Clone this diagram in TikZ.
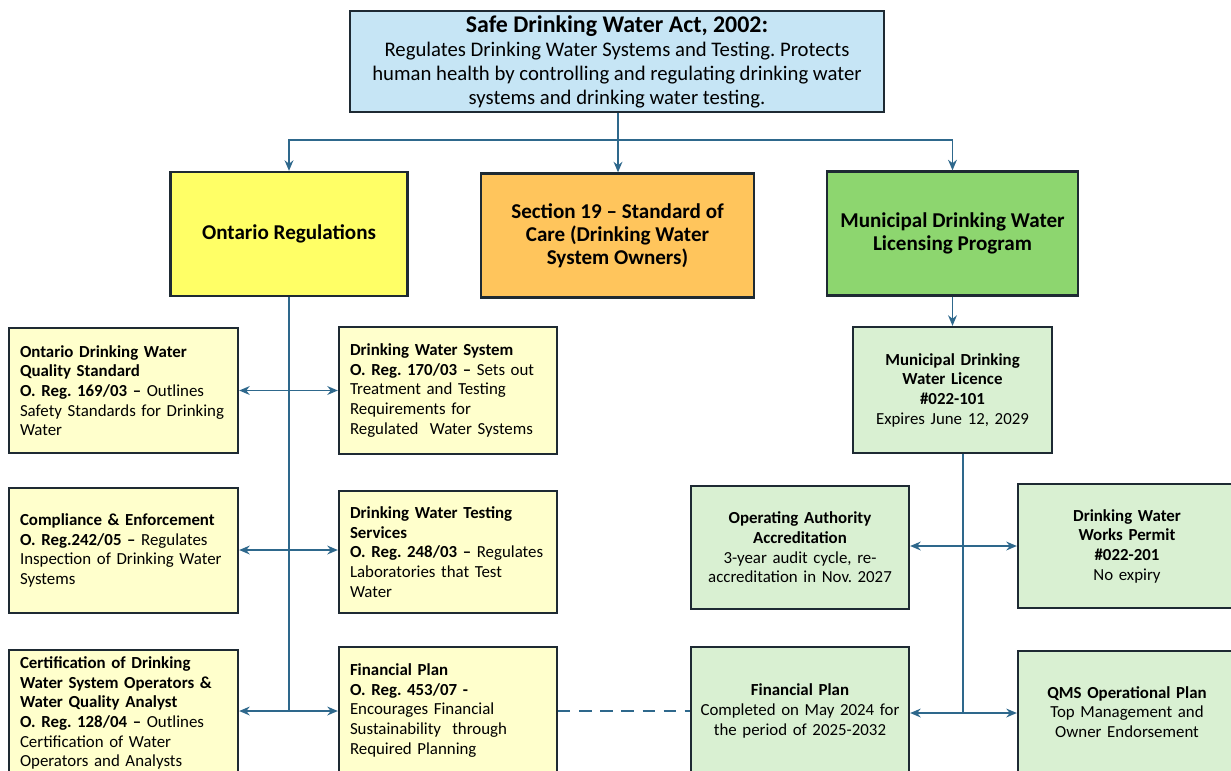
\documentclass[tikz,border=0pt]{standalone}
\usepackage{fontspec}
\setmainfont{Carlito}
\usepackage{tikz}
\usetikzlibrary{arrows.meta}
\frenchspacing

\definecolor{actblue}{HTML}{C6E5F5}
\definecolor{regyellow}{HTML}{FFFF66}
\definecolor{careorange}{HTML}{FFC55C}
\definecolor{licgreen}{HTML}{8DD66F}
\definecolor{paleyellow}{HTML}{FFFFCC}
\definecolor{palegreen}{HTML}{D9F0D2}
\definecolor{linkblue}{HTML}{2E688C}
\definecolor{boxline}{HTML}{1E2A33}

\begin{document}
\begin{tikzpicture}[box/.style={draw=boxline, line width=1.3pt, rectangle, inner sep=0pt},
    tnode/.style={box, fill=actblue, minimum width=10.68cm, minimum height=2.02cm, align=center, font=\fontsize{11.8}{13.6}\selectfont},
    hnode/.style={box, minimum height=2.48cm, align=center, font=\fontsize{12}{13.2}\selectfont\bfseries},
    rnode/.style={box, fill=paleyellow, inner xsep=0.22cm, align=left, font=\fontsize{9.6}{11.2}\selectfont},
    lnode/.style={box, fill=palegreen, align=center, font=\fontsize{9.6}{11.2}\selectfont},
    spine/.style={draw=linkblue, line width=1.3pt},
    link/.style={draw=linkblue, line width=1.1pt, -{Stealth[length=6pt,width=5pt]}},
    both/.style={link, {Stealth[length=6pt,width=5pt]}-{Stealth[length=6pt,width=5pt]}}]
    \useasboundingbox (0,0) rectangle (24.62,-15.4);
    \clip (0,0) rectangle (24.62,-15.4);

    \node[tnode] (act) at (12.34,-1.23) {\rule{0pt}{10pt}{\fontsize{13.6}{16}\selectfont\bfseries Safe Drinking Water Act, 2002:}\\
        Regulates Drinking Water Systems and Testing. Protects\\ human health by controlling and regulating drinking water\\ systems and drinking water testing.};

    \node[hnode, fill=regyellow, minimum width=4.74cm] (ont) at (5.78,-4.68) {Ontario Regulations};
    \node[hnode, fill=careorange, minimum width=5.46cm] (care) at (12.35,-4.71) {Section 19 -- Standard of\\ Care (Drinking Water\\ System Owners)};
    \node[hnode, fill=licgreen, minimum width=5.02cm] (mun) at (19.05,-4.67) {Municipal Drinking Water\\ Licensing Program};

    % Ontario regulations
    \node[rnode, text width=4.14cm, minimum height=2.5cm] (odwqs) at (2.47,-7.81) {{\bfseries Ontario Drinking Water\\ Quality Standard\\ O. Reg. 169/03 --} Outlines\\ Safety Standards for Drinking\\ Water};
    \node[rnode, text width=4.14cm, minimum height=2.5cm] (comp) at (2.47,-11.01) {{\bfseries Compliance \& Enforcement\\ O. Reg.242/05 --} Regulates\\ Inspection of Drinking Water\\ Systems};
    \node[rnode, text width=4.14cm, minimum height=2.52cm] (cert) at (2.47,-14.26) {{\bfseries Certification of Drinking\\ Water System Operators \&\\ Water Quality Analyst\\ O. Reg. 128/04 --} Outlines\\ Certification of Water\\ Operators and Analysts};
    \node[rnode, text width=3.92cm, minimum height=2.54cm] (dws) at (8.96,-7.81) {{\bfseries Drinking Water System\\ O. Reg. 170/03 --} Sets out\\ Treatment and Testing\\ Requirements for\\ Regulated\ \ Water Systems};
    \node[rnode, text width=3.92cm, minimum height=2.44cm] (test) at (8.96,-11.04) {{\bfseries Drinking Water Testing\\ Services\\ O. Reg. 248/03 --} Regulates\\ Laboratories that Test\\ Water};
    \node[rnode, text width=3.92cm, minimum height=2.54cm] (fin) at (8.96,-14.21) {{\bfseries Financial Plan\\ O. Reg. 453/07 -}\\ Encourages Financial\\ Sustainability\ \ through\\ Required Planning};

    % licensing program
    \node[lnode, text width=3.98cm, minimum height=2.52cm] (mdwl) at (19.05,-7.8) {{\bfseries Municipal Drinking\\ Water Licence\\ \#022-101}\\ Expires June 12, 2029};
    \node[lnode, text width=4.36cm, minimum height=2.46cm] (oaa) at (16.0,-10.95) {{\bfseries Operating Authority\\ Accreditation}\\ 3-year audit cycle, re-\\ accreditation in Nov. 2027};
    \node[lnode, text width=4.36cm, minimum height=2.48cm] (dwwp) at (22.54,-10.92) {{\bfseries Drinking Water\\ Works Permit\\ \#022-201}\\ No expiry};
    \node[lnode, text width=4.36cm, minimum height=2.56cm] (finr) at (16.0,-14.22) {{\bfseries Financial Plan}\\ Completed on May 2024 for\\ the period of 2025-2032};
    \node[lnode, text width=4.36cm, minimum height=2.44cm] (qms) at (22.54,-14.24) {{\bfseries QMS Operational Plan}\\ Top Management and\\ Owner Endorsement};

    \coordinate (bus) at (12.36,-2.8);
    \draw[spine] (act.south -| bus) -- (bus);
    \draw[link] (bus) -| (ont.north);
    \draw[link] (bus) -- (care.north -| bus);
    \draw[link] (bus) -| (mun.north);

    \draw[spine] (ont.south) -- (ont.south |- 0,-14.22);
    \draw[both] (odwqs.east) -- (odwqs.east -| dws.west);
    \draw[both] (comp.east |- 0,-11.0) -- (test.west |- 0,-11.0);
    \draw[both] (cert.east |- 0,-14.22) -- (fin.west |- 0,-14.22);

    \draw[link] (mun.south) -- (mdwl.north);
    \coordinate (mspine) at (19.26,-14.26);
    \draw[spine] (mdwl.south -| mspine) -- (mspine);
    \draw[both] (oaa.east |- 0,-10.92) -- (dwwp.west |- 0,-10.92);
    \draw[both] (finr.east |- mspine) -- (qms.west |- mspine);

    \draw[linkblue, line width=1.1pt, dash pattern=on 7pt off 5pt] (fin.east |- 0,-14.22) -- (finr.west |- 0,-14.22);
\end{tikzpicture}
\end{document}
